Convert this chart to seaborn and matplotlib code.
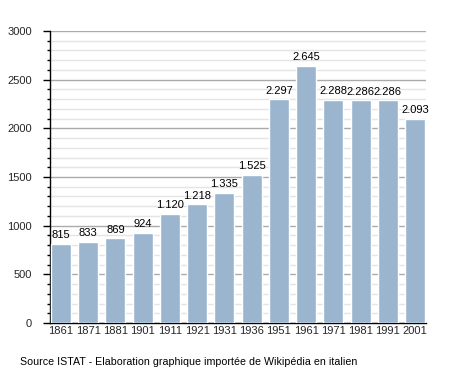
import matplotlib
matplotlib.use("Agg")
import matplotlib.pyplot as plt
import seaborn as sns
import pandas as pd
from matplotlib.ticker import MultipleLocator

years = ["1861", "1871", "1881", "1901", "1911", "1921", "1931", "1936",
         "1951", "1961", "1971", "1981", "1991", "2001"]
population = [815, 833, 869, 924, 1120, 1218, 1335, 1525,
              2297, 2645, 2288, 2286, 2286, 2093]
value_labels = ["815", "833", "869", "924", "1.120", "1.218", "1.335", "1.525",
                "2.297", "2.645", "2.288", "2.286", "2.286", "2.093"]
source_text = "Source ISTAT - Elaboration graphique importée de Wikipédia en italien"

sns.set_theme(style="white")
plt.rcParams["font.family"] = ["Liberation Sans", "DejaVu Sans"]

df = pd.DataFrame({"year": years, "pop": population})

fig = plt.figure(figsize=(4.55, 3.73), dpi=100)
ax = fig.add_axes([50/455, (373-323)/373, (426-50)/455, (323-31)/373])

sns.barplot(data=df, x="year", y="pop", color="#9cb5cf", saturation=1,
            width=0.735, ax=ax, zorder=3)

ax.set_ylim(0, 3000)
ax.set_xlim(-0.404, 13.4)
ax.yaxis.set_major_locator(MultipleLocator(500))
ax.yaxis.set_minor_locator(MultipleLocator(100))
ax.grid(which="major", axis="y", color="#aaaaaa", linewidth=1.0, zorder=0)
ax.grid(which="minor", axis="y", color="#e4e4e4", linewidth=1.0, zorder=0)
ax.set_axisbelow(True)

for s in ["top", "right"]:
    ax.spines[s].set_visible(False)
for s in ["left", "bottom"]:
    ax.spines[s].set_color("black")
    ax.spines[s].set_linewidth(1.0)

ax.tick_params(axis="y", which="major", direction="out", length=5, width=1,
               color="black", labelsize=8, pad=8, left=True)
ax.tick_params(axis="y", which="minor", direction="out", length=2.5, width=1,
               color="black", left=True)
ax.tick_params(axis="x", which="both", length=0, labelsize=8, pad=2)

ax.set_xlabel("")
ax.set_ylabel("")

for i, (v, lab) in enumerate(zip(population, value_labels)):
    ax.text(i, v + 40, lab, ha="center", va="bottom", fontsize=8, color="black")

fig.text(20/455, 1 - 362/373, source_text, ha="left", va="center", fontsize=7.7,
         color="black")

fig.savefig("out.png", dpi=100, facecolor="white")
